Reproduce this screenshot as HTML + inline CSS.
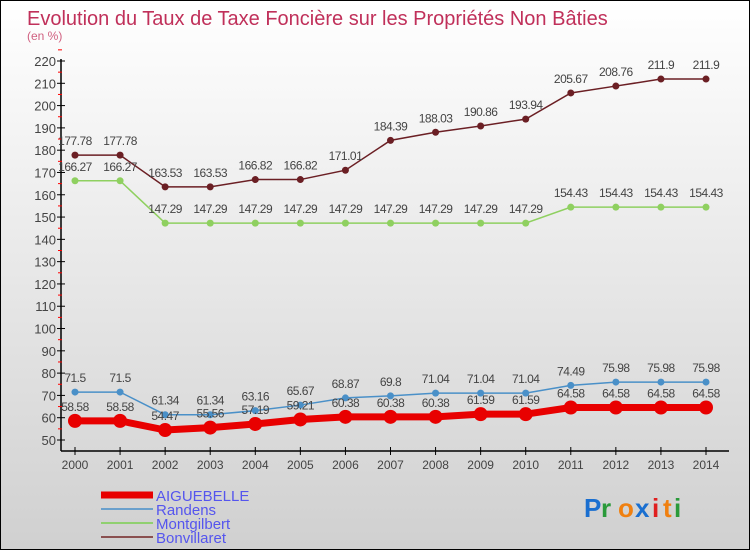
<!DOCTYPE html>
<html><head><meta charset="utf-8"><style>
body{margin:0}
#c{width:748px;height:548px;border:1px solid #000;background:linear-gradient(#ffffff,#d0d0d0);position:relative;font-family:"Liberation Sans",sans-serif;overflow:hidden}
</style></head><body>
<div id="c">
<svg id="s" width="748" height="548"></svg>
</div>
<script>
const years=["2000","2001","2002","2003","2004","2005","2006","2007","2008","2009","2010","2011","2012","2013","2014"];
const aiguebelle=[58.58,58.58,54.47,55.56,57.19,59.21,60.38,60.38,60.38,61.59,61.59,64.58,64.58,64.58,64.58];
const randens=[71.5,71.5,61.34,61.34,63.16,65.67,68.87,69.8,71.04,71.04,71.04,74.49,75.98,75.98,75.98];
const montgilbert=[166.27,166.27,147.29,147.29,147.29,147.29,147.29,147.29,147.29,147.29,147.29,154.43,154.43,154.43,154.43];
const bonvillaret=[177.78,177.78,163.53,163.53,166.82,166.82,171.01,184.39,188.03,190.86,193.94,205.67,208.76,211.9,211.9];
const yTicks=[50,60,70,80,90,100,110,120,130,140,150,160,170,180,190,200,210,220];
const S=document.getElementById('s'),NS='http://www.w3.org/2000/svg';
function el(t,a,p){const e=document.createElementNS(NS,t);for(const k in a)e.setAttribute(k,a[k]);(p||S).appendChild(e);return e;}
const x=i=>74+i*(705-74)/14;
const y=v=>439-(v-50)*(439-60)/170;
function txt(s,a,name){const e=el('text',a);e.textContent=s;return e;}
txt('Evolution du Taux de Taxe Foncière sur les Propriétés Non Bâties',{x:26,y:24,'font-size':20,fill:'#c0305a'},'chart-title');
txt('(en %)',{x:26,y:39,'font-size':12,fill:'#d06080'},'y-unit');
el('line',{x1:60,y1:58,x2:60,y2:450,stroke:'#000','stroke-width':1.5});
el('line',{x1:60,y1:450,x2:728,y2:450,stroke:'#000','stroke-width':1.5});
yTicks.forEach(v=>{el('line',{x1:56,x2:64,y1:y(v),y2:y(v),stroke:'#000'});el('line',{x1:57,x2:61,y1:y(v+5),y2:y(v+5),stroke:'#f00'});
txt(v,{x:55,y:y(v)+5,'text-anchor':'end','font-size':13,fill:'#444'},'y-tick-label');});
years.forEach((yr,i)=>{el('line',{x1:x(i),x2:x(i),y1:446,y2:454,stroke:'#000'});txt(yr,{x:x(i),y:468,'text-anchor':'middle','font-size':12,fill:'#444'},'x-tick-label');});
function series(d,col,w,r,name){
 const pts=d.map((v,i)=>x(i)+','+y(v)).join(' ');
 const l=el('polyline',{points:pts,fill:'none',stroke:col,'stroke-width':w});
 
 d.forEach((v,i)=>{const c=el('circle',{cx:x(i),cy:y(v),r:r,fill:col});
 txt(v,{x:x(i),y:y(v)-10,'text-anchor':'middle','font-size':12,fill:'#444','letter-spacing':'-0.5'},name+'-value');});
}
series(bonvillaret,'#6b1f24',1.5,3.5,'bonvillaret');
series(montgilbert,'#8fd060',1.5,3.5,'montgilbert');
series(randens,'#4a90c8',1.5,3.5,'randens');
series(aiguebelle,'#e80000',7,7,'aiguebelle');
const leg=[['AIGUEBELLE','#e80000',7],['Randens','#6aa0cc',2],['Montgilbert','#90d070',2],['Bonvillaret','#8a5050',2]];
leg.forEach((l,i)=>{const yy=494+i*14;el('line',{x1:100,x2:152,y1:yy,y2:yy,stroke:l[1],'stroke-width':l[2]});
txt(l[0],{x:155,y:yy+6,'font-size':15,fill:'#5555ee'},'legend-entry');});
const logo=[['P','#1a6fd0'],['r','#2a9a3a'],['o','#f08010'],['x','#1a6fd0'],['i','#e02020'],['t','#f08010'],['i','#2a9a3a']];
let lx=583;logo.forEach(c=>{txt(c[0],{x:lx,y:516,'font-size':26,fill:c[1],'font-weight':'bold'},'logo-letter');lx+=c[0]=='i'||c[0]=='t'?11:17;});
</script>
</body></html>
